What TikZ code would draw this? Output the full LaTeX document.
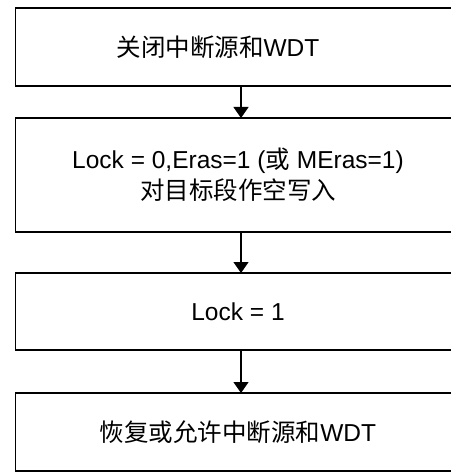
\documentclass[tikz,border=0pt]{standalone}
\usepackage{fontspec}
\setmainfont{Liberation Sans}
\newfontfamily\cjk{Noto Sans CJK SC}
\usetikzlibrary{positioning,arrows.meta}

\begin{document}
\begin{tikzpicture}[
    x=1pt, y=1pt,
    node distance=32pt,
    box/.style={rectangle, draw, line width=1.8pt, outer sep=0pt, minimum width=445pt, align=center, inner sep=0pt, font=\fontsize{24.5}{31}\selectfont},
    arrow/.style={-{Triangle[width=15pt,length=11pt]}, line width=1.2pt}
]
    \useasboundingbox (0,0) rectangle (450,-473);
    % Steps
    \node[box, minimum height=78pt] (off) at (238,-47) {\hspace*{-40pt}{\cjk 关闭中断源和}WDT};
    \node[box, minimum height=114pt, below=32pt of off] (erase) {Lock = 0,Eras=1 ({\cjk 或} MEras=1)\\{\cjk 对目标段作空写入}};
    \node[box, minimum height=77pt, below=41pt of erase] (lock) {Lock = 1};
    \node[box, minimum height=78pt, below=43pt of lock] (on) {{\cjk 恢复或允许中断源和}WDT};
    % Arrows
    \draw[arrow] ([xshift=3pt]off.south) -- ([xshift=3pt]erase.north);
    \draw[arrow] ([xshift=3pt]erase.south) -- ([xshift=3pt]lock.north);
    \draw[arrow] ([xshift=3pt]lock.south) -- ([xshift=3pt]on.north);
\end{tikzpicture}
\end{document}
